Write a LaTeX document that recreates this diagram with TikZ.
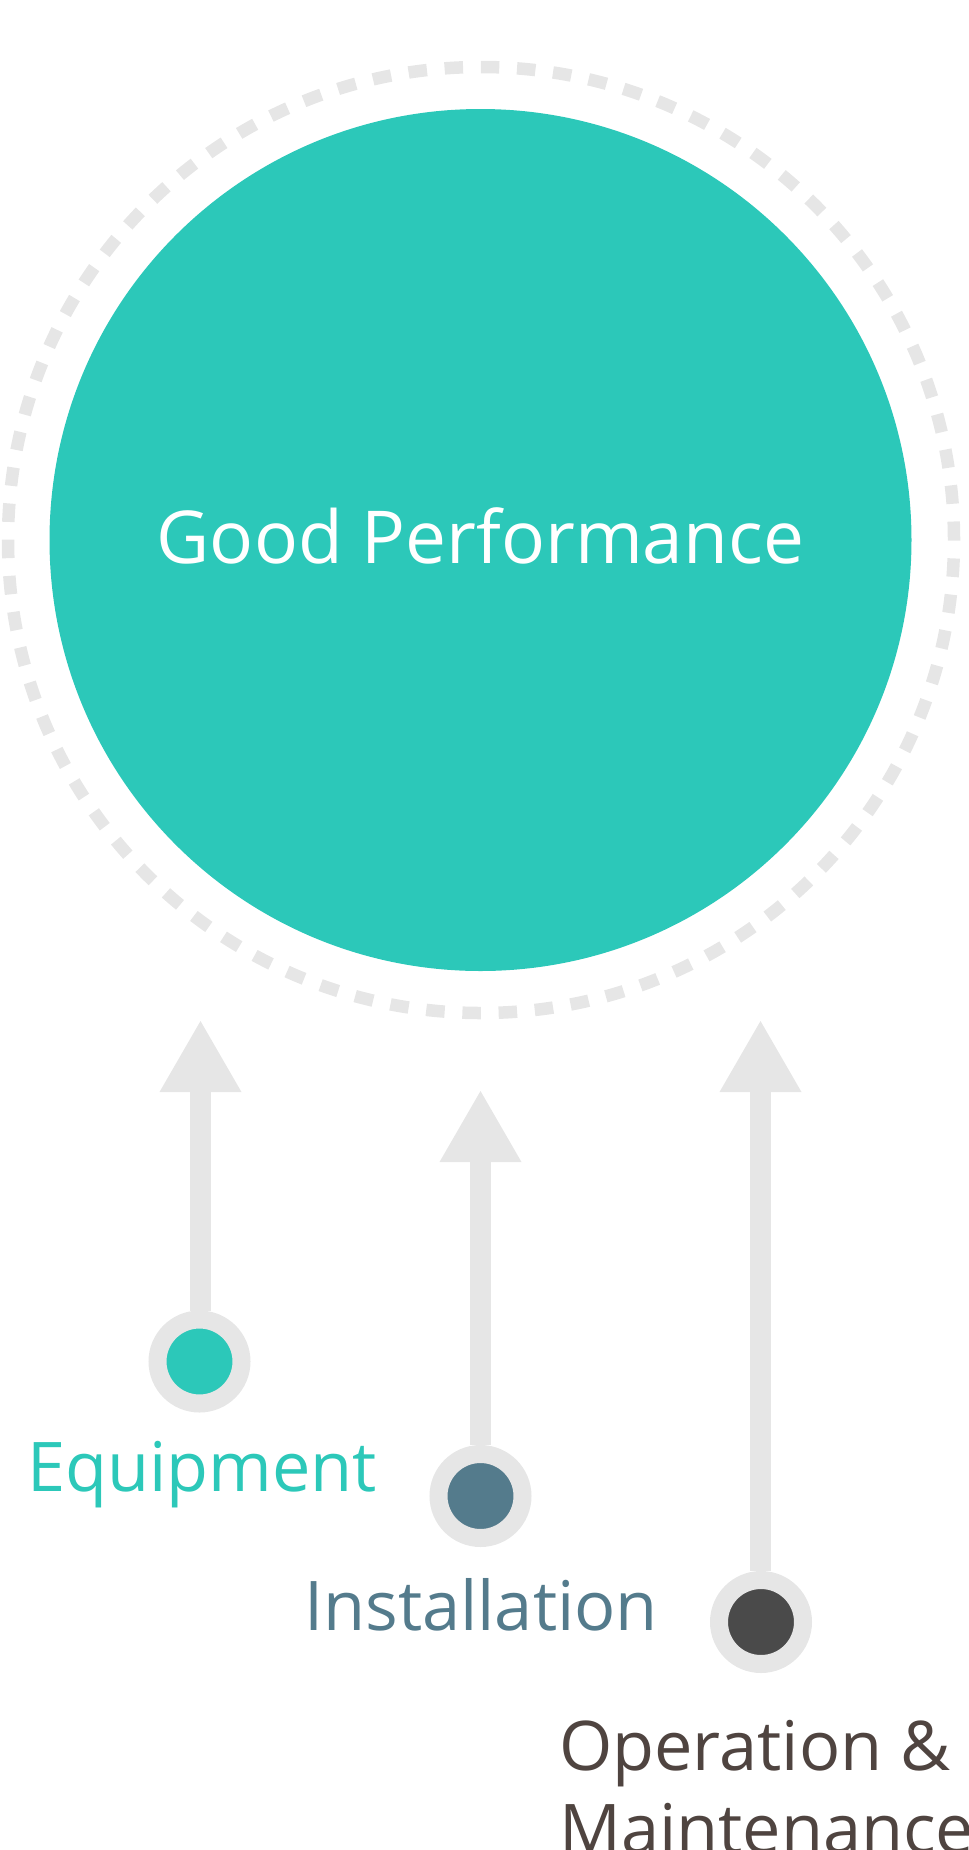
\documentclass[tikz,border=0pt]{standalone}
\usepackage{fontspec}
\setmainfont{Open Sans}
\usetikzlibrary{arrows.meta}
\definecolor{teal}{HTML}{2CC8B9}
\definecolor{ringgray}{HTML}{E6E6E6}
\definecolor{slate}{HTML}{547B8C}
\definecolor{darkdot}{HTML}{4A4A4A}
\definecolor{brown}{HTML}{4F4440}
\tikzset{
  dotnode/.style={circle, draw=ringgray, line width=18pt, minimum size=84pt, inner sep=0pt},
  uparrow/.style={draw=ringgray, line width=21pt,
    -{Triangle[width=82pt,length=71pt,line width=0pt,fill=ringgray]}},
  label/.style={inner sep=0pt, anchor=base west, font=\fontsize{68.5}{83}\selectfont},
}
\begin{document}
\begin{tikzpicture}[x=1pt,y=-1pt]
\useasboundingbox (0,0) rectangle (969,1850);
\clip (0,0) rectangle (969,1850);
% dashed ring
\node[circle, draw=ringgray, line width=12.5pt, minimum size=946pt, inner sep=0pt,
      dash pattern=on 18.5pt off 17.74pt] (ring) at (481,540) {};
% main circle
\node[circle, fill=teal, minimum size=862pt, inner sep=0pt] (perf) at (480.5,540) {};
\node[inner sep=0pt, anchor=base, text=white, font=\fontsize{73}{80}\selectfont]
  (perflabel) at (480.5,563) {Good Performance};
% dots
\node[dotnode, fill=teal] (d1) at (199.5,1361.5) {};
\node[dotnode, fill=slate] (d2) at (480.5,1496) {};
\node[dotnode, fill=darkdot] (d3) at (761,1622) {};
% arrow tips
\coordinate (t1) at (200.5,1021);
\coordinate (t2) at (480.5,1091);
\coordinate (t3) at (760.5,1021);
\draw[uparrow] (d1.north -| t1) -- (t1);
\draw[uparrow] (d2.north -| t2) -- (t2);
\draw[uparrow] (d3.north -| t3) -- (t3);
% labels
\node[label, text=teal] (l1) at (27,1491) {Equipment};
\node[label, text=slate] (l2) at (304,1630) {Installation};
\node[label, text=brown] (l3a) at (559,1770) {Operation \&};
\node[label, text=brown] (l3b) at (559,1853) {Maintenance};
\end{tikzpicture}
\end{document}
